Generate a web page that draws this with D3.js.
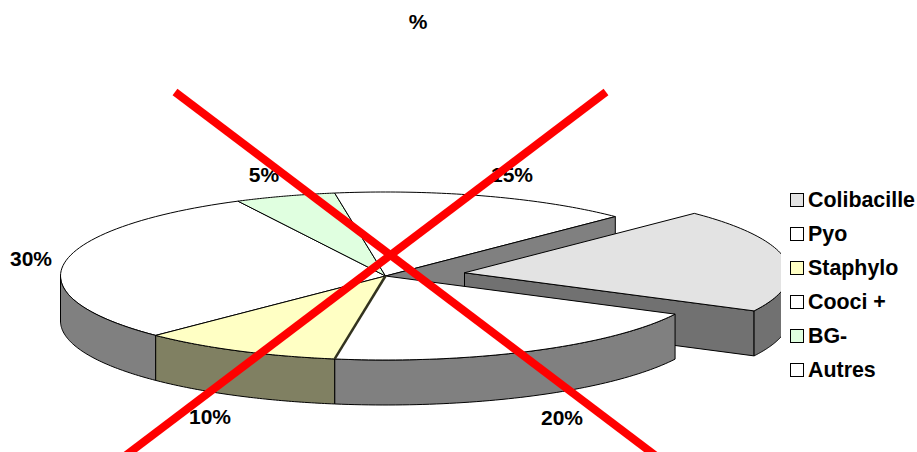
<!DOCTYPE html>
<html>
<head>
<meta charset="utf-8">
<style>
    html, body { margin: 0; padding: 0; background: #fff; }
    svg { display: block; }
    text { font-family: "Liberation Sans", Arial, sans-serif; font-weight: bold; font-size: 21px; fill: #000; }
    .legend-label { font-size: 21.4px; }
</style>
</head>
<body>
<script src="https://d3js.org/d3.v7.min.js"></script>
<script>
    // slices, clockwise from the first one
    var categories = ["Colibacille", "Pyo", "Staphylo", "Cooci +", "BG-", "Autres"];
    var values = [20, 20, 10, 30, 5, 15];
    var valueLabels = [null, "20%", "10%", "30%", "5%", "15%"];
    var topColors = ["#e3e3e3", "#ffffff", "#ffffc4", "#ffffff", "#e0ffe0", "#ffffff"];
    var sideColors = ["#717171", "#808080", "#808062", "#808080", "#708070", "#808080"];
    var legendSwatches = ["#e3e3e3", "#ffffff", "#ffffc4", "#ffffff", "#e0ffe0", "#ffffff"];

    var width = 917,
        height = 452;

    var cx = 385.5, cy = 276,   // pie centre
        rx = 325, ry = 84,      // ellipse radii of the top face
        depth = 45,
        explode = 80;           // how far the first slice is pulled out

    var svg = d3.select("body").append("svg")
        .attr("width", width)
        .attr("height", height);

    svg.append("clipPath").attr("id", "plot-clip")
        .append("rect").attr("x", 0).attr("y", 0).attr("width", 781).attr("height", height);

    var slices = d3.pie().sort(null)
        .startAngle(Math.PI / 4)
        .endAngle(Math.PI / 4 + 2 * Math.PI)(values);

    var line = d3.line();

    function pointAt(a, ox, oy, dy) {
        return [cx + ox + rx * Math.sin(a), cy + oy - ry * Math.cos(a) + dy];
    }

    function arcPoints(a0, a1, ox, oy, dy) {
        return d3.range(0, 61).map(function(i) {
            return pointAt(a0 + (a1 - a0) * i / 60, ox, oy, dy);
        });
    }

    function topPath(s, ox, oy) {
        return line([[cx + ox, cy + oy]].concat(arcPoints(s.startAngle, s.endAngle, ox, oy, 0))) + "Z";
    }

    // outer wall: only the part of the rim facing the viewer (90deg to 270deg)
    function wallPath(s, ox, oy) {
        var a0 = Math.max(s.startAngle, Math.PI / 2),
            a1 = Math.min(s.endAngle, 3 * Math.PI / 2);
        return line(arcPoints(a0, a1, ox, oy, 0).concat(arcPoints(a1, a0, ox, oy, depth))) + "Z";
    }

    // flat cut face running from the centre out to one edge angle
    function cutPath(a, ox, oy) {
        var p = pointAt(a, ox, oy, 0);
        return line([[cx + ox, cy + oy], p, [p[0], p[1] + depth], [cx + ox, cy + oy + depth]]) + "Z";
    }

    var g = svg.append("g")
        .attr("stroke", "#000")
        .attr("stroke-width", 1)
        .attr("stroke-linejoin", "round");

    function drawTop(i, ox, oy) {
        g.append("path").attr("d", topPath(slices[i], ox, oy)).attr("fill", topColors[i]);
    }
    function drawWall(i, ox, oy) {
        g.append("path").attr("d", wallPath(slices[i], ox, oy)).attr("fill", sideColors[i]);
    }
    function drawCut(i, a, ox, oy) {
        g.append("path").attr("d", cutPath(a, ox, oy)).attr("fill", sideColors[i]);
    }

    // back of the pie first, then forward
    drawTop(3, 0, 0);
    drawTop(4, 0, 0);
    drawTop(5, 0, 0);
    drawCut(5, slices[5].endAngle, 0, 0);

    // pulled out slice, cropped by the plot area
    var mid = (slices[0].startAngle + slices[0].endAngle) / 2,
        ox = explode * Math.sin(mid),
        oy = -explode * Math.cos(mid) * ry / rx;
    var gMain = g;
    g = gMain.append("g").attr("clip-path", "url(#plot-clip)");
    drawCut(0, slices[0].endAngle, ox, oy);
    drawWall(0, ox, oy);
    drawTop(0, ox, oy);
    g = gMain;

    drawWall(1, 0, 0);
    drawTop(1, 0, 0);
    drawWall(3, 0, 0);
    drawWall(2, 0, 0);
    drawTop(2, 0, 0);

    // sliver of the side showing along the Staphylo / Pyo edge
    var edge = pointAt(slices[2].startAngle, 0, 0, 0);
    g.append("path")
        .attr("d", line([[cx, cy], edge]))
        .attr("stroke", "#33331f")
        .attr("stroke-width", 2.5);

    // value labels
    var labelAnchors = [null, [562, 425], [210, 424], [31, 266], [264, 182], [512, 182]];
    svg.append("g").selectAll("text")
        .data(valueLabels.filter(function(d) { return d; }))
        .enter().append("text")
        .attr("text-anchor", "middle")
        .attr("x", function(d) { return labelAnchors[valueLabels.indexOf(d)][0]; })
        .attr("y", function(d) { return labelAnchors[valueLabels.indexOf(d)][1]; })
        .text(function(d) { return d; });

    svg.append("text")
        .attr("x", 418).attr("y", 29)
        .attr("text-anchor", "middle")
        .text("%");

    // legend
    var legendY = d3.scalePoint().domain(categories).range([200, 370]);
    var legend = svg.append("g").selectAll("g")
        .data(categories)
        .enter().append("g")
        .attr("transform", function(d) { return "translate(790," + legendY(d) + ")"; });
    legend.append("rect")
        .attr("x", 0.5).attr("y", -6.5)
        .attr("width", 13).attr("height", 13)
        .attr("fill", function(d, i) { return legendSwatches[i]; })
        .attr("stroke", "#000");
    legend.append("text")
        .attr("class", "legend-label")
        .attr("x", 18).attr("y", 7)
        .text(function(d) { return d; });

    // red cross over the whole chart
    var cross = [[[175, 92], [656, 456]], [[606, 92], [125, 456]]];
    svg.append("g").selectAll("path")
        .data(cross)
        .enter().append("path")
        .attr("d", line)
        .attr("stroke", "#ff0000")
        .attr("stroke-width", 8)
        .attr("fill", "none");
</script>
</body>
</html>
